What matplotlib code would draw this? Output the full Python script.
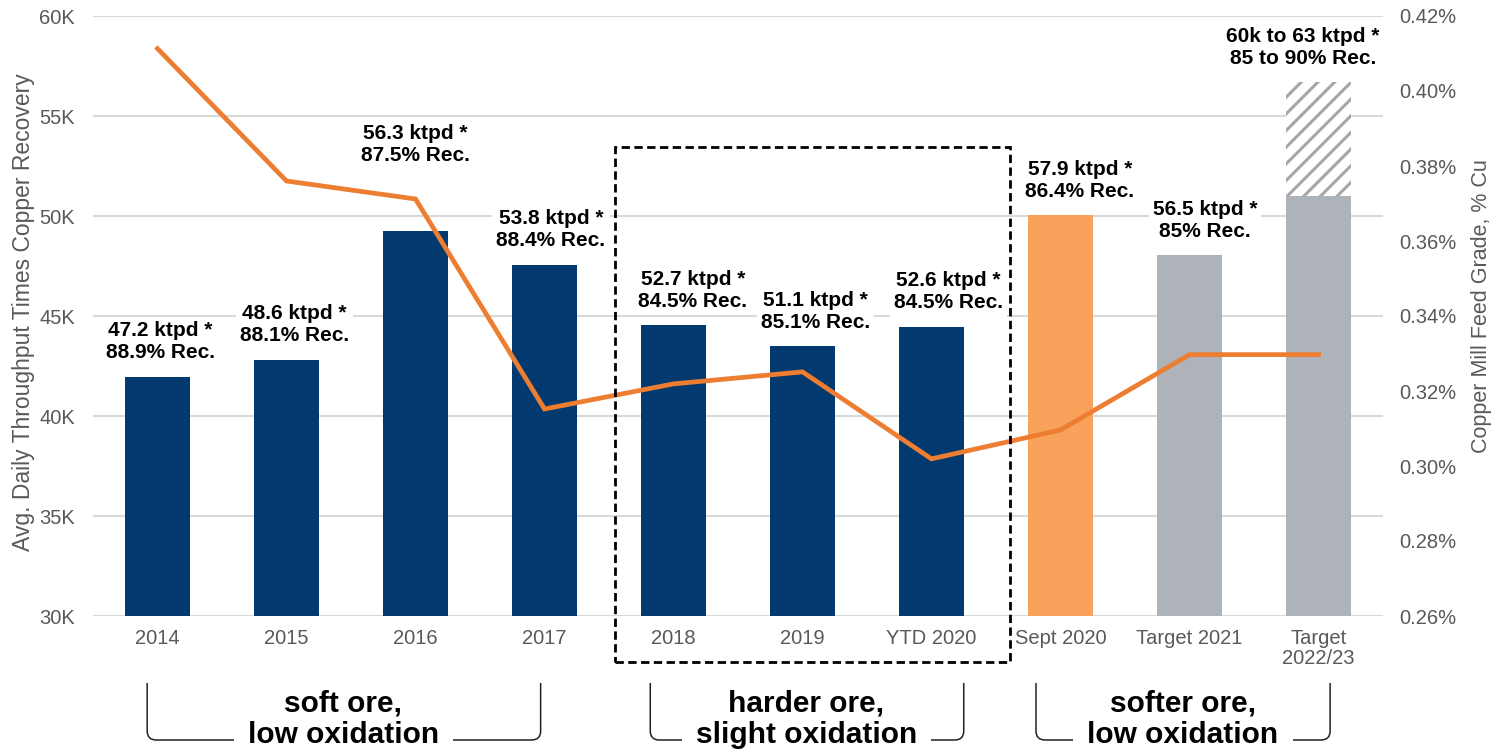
import matplotlib
matplotlib.use("Agg")
import matplotlib.pyplot as plt
from matplotlib.patches import Rectangle, PathPatch
from matplotlib.path import Path
from matplotlib.ticker import FuncFormatter

categories = ["2014", "2015", "2016", "2017", "2018", "2019", "YTD 2020",
              "Sept 2020", "Target 2021", "Target\n2022/23"]
# avg daily throughput (k) times copper recovery
throughput_rec = [41.96, 42.82, 49.26, 47.56, 44.53, 43.49, 44.45, 50.03, 48.03, 51.0]
target_top = 56.7
# copper mill feed grade, % Cu
feed_grade = [0.4113, 0.3760, 0.3712, 0.3152, 0.3219, 0.3251, 0.3019, 0.3096, 0.3297, 0.3297]
throughput_labels = ["47.2 ktpd *", "48.6 ktpd *", "56.3 ktpd *", "53.8 ktpd *", "52.7 ktpd *",
                     "51.1 ktpd *", "52.6 ktpd *", "57.9 ktpd *", "56.5 ktpd *", "60k to 63 ktpd *"]
recovery_labels = ["88.9% Rec.", "88.1% Rec.", "87.5% Rec.", "88.4% Rec.", "84.5% Rec.",
                   "85.1% Rec.", "84.5% Rec.", "86.4% Rec.", "85% Rec.", "85 to 90% Rec."]
group_labels = ["soft ore,\nlow oxidation", "harder ore,\nslight oxidation", "softer ore,\nlow oxidation"]

navy = "#023A70"
orange_bar = "#F8A25C"
grey_bar = "#ADB3B9"
line_col = "#ED7D31"
txt_grey = "#595959"
bar_colors = [navy] * 7 + [orange_bar] + [grey_bar] * 2

plt.rcParams["font.family"] = ["Liberation Sans", "DejaVu Sans"]
plt.rcParams["hatch.linewidth"] = 2.2

fig = plt.figure(figsize=(14.91, 7.52), dpi=100)
ax = fig.add_axes([93 / 1491, 1 - 616 / 752, 1290 / 1491, 600 / 752])
ax2 = ax.twinx()

x = list(range(len(categories)))
ax.bar(x, throughput_rec, width=0.5, color=bar_colors, zorder=2)
ax.bar(x[-1], target_top - throughput_rec[-1], bottom=throughput_rec[-1], width=0.5,
       color="white", edgecolor="#A6A6A6", hatch="//", linewidth=0, zorder=2)

ax.set_xlim(-0.5, 9.5)
ax.set_ylim(30, 60)
ax.set_yticks(range(30, 61, 5))
ax.yaxis.set_major_formatter(FuncFormatter(lambda v, p: f"{int(v)}K"))
ax.grid(axis="y", color="#D9D9D9", linewidth=1.5, zorder=0)
ax.set_axisbelow(True)
ax.set_xticks(x)
ax.set_xticklabels(categories, linespacing=1.1)
ax.tick_params(axis="x", length=0, pad=9, labelsize=14.5, labelcolor=txt_grey)
ax.tick_params(axis="y", length=0, pad=13, labelsize=14.5, labelcolor=txt_grey)

ax2.plot(x, feed_grade, color=line_col, linewidth=3.4, solid_joinstyle="miter", zorder=3)
ax2.set_ylim(0.26, 0.42)
ax2.set_yticks([0.26 + 0.02 * i for i in range(9)])
ax2.yaxis.set_major_formatter(FuncFormatter(lambda v, p: f"{v:.2f}%"))
ax2.tick_params(axis="y", length=0, pad=12, labelsize=14.5, labelcolor=txt_grey)

for a in (ax, ax2):
    for s in a.spines.values():
        s.set_visible(False)

fig.text(24 / 1491, 1 - 312 / 752, "Avg. Daily Throughput Times Copper Recovery",
         rotation=90, ha="center", va="center", fontsize=16.5, color=txt_grey)
fig.text(1481 / 1491, 1 - 306 / 752, "Copper Mill Feed Grade, % Cu",
         rotation=90, ha="center", va="center", fontsize=15.5, color=txt_grey)

# bar labels (small horizontal nudges as in the original slide)
tops = throughput_rec[:-1] + [target_top]
x_nudge = [0.02, 0.06, 0.0, 0.05, 0.15, 0.1, 0.13, 0.15, 0.12, -0.12]
for i in x:
    extra = 2.55 if i == 2 else 0
    ax2.text(i + x_nudge[i], tops[i] + 1.75 + extra,
             throughput_labels[i] + "\n" + recovery_labels[i],
             transform=ax.transData, ha="center", va="center", fontsize=15,
             fontweight="bold", linespacing=1.2, zorder=5,
             bbox=dict(facecolor="white", edgecolor="none", pad=3))

# dashed box around 2018 - YTD 2020
ax2.add_patch(Rectangle((3.547, 27.7), 3.062, 25.75, transform=ax.transData, fill=False,
                        edgecolor="black", linewidth=2, linestyle=(0, (3, 1.6)),
                        clip_on=False, zorder=6))

# group brackets
bracket_spans = [(-0.08, 2.97, 1.44), (3.82, 6.25, 5.03), (6.81, 9.09, 7.95)]
y_top, y_bot = 26.65, 23.8
rx, ry = 0.07, 0.45
for (x0, x1, xc), label in zip(bracket_spans, group_labels):
    verts = [(x0, y_top), (x0, y_bot + ry), (x0, y_bot), (x0 + rx, y_bot),
             (x1 - rx, y_bot), (x1, y_bot), (x1, y_bot + ry), (x1, y_top)]
    codes = [Path.MOVETO, Path.LINETO, Path.CURVE3, Path.CURVE3,
             Path.LINETO, Path.CURVE3, Path.CURVE3, Path.LINETO]
    ax2.add_patch(PathPatch(Path(verts, codes), transform=ax.transData, fill=False,
                            edgecolor="#222222", linewidth=1.1, clip_on=False, zorder=6))
    ax2.text(xc, 24.85, label, transform=ax.transData, ha="center", va="center",
             fontsize=21.5, fontweight="bold", linespacing=1.15, zorder=7, clip_on=False,
             bbox=dict(facecolor="white", edgecolor="none", pad=10))

fig.savefig("out.png", dpi=100)
